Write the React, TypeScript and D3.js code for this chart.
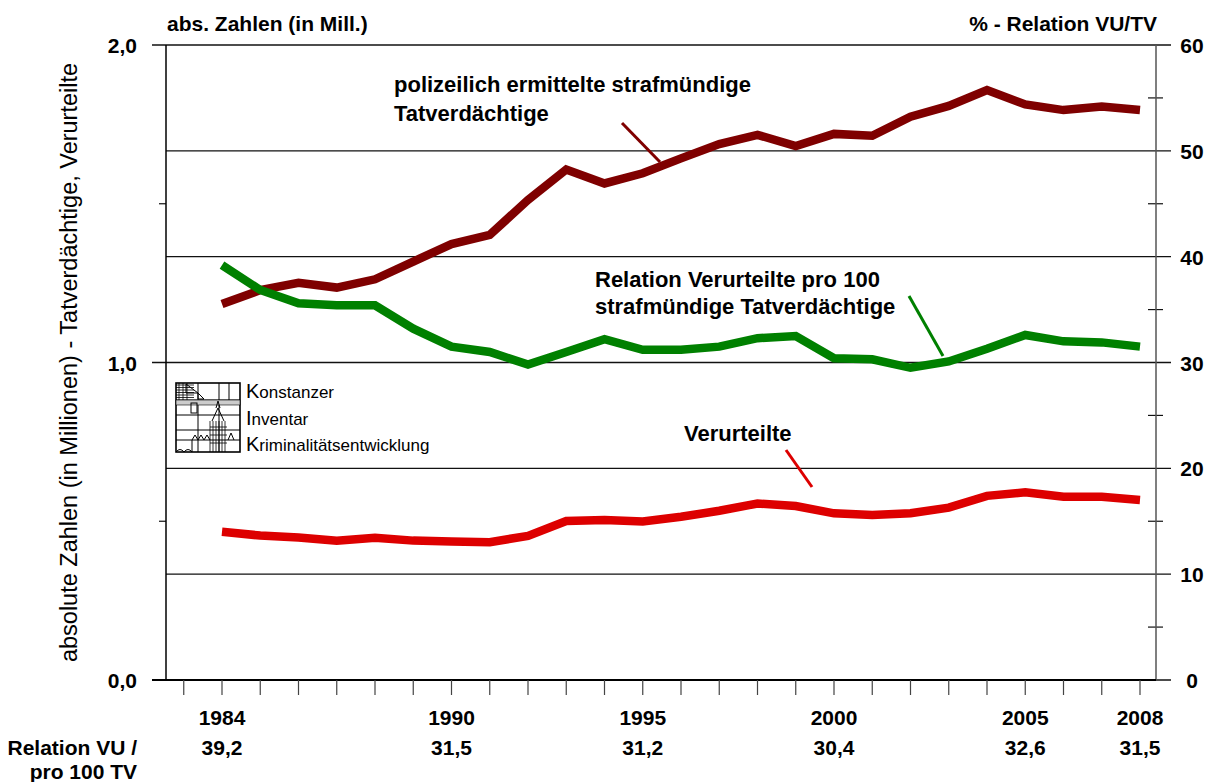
import * as d3 from "d3";

const years = [1984, 1985, 1986, 1987, 1988, 1989, 1990, 1991, 1992, 1993, 1994, 1995, 1996, 1997, 1998, 1999, 2000, 2001, 2002, 2003, 2004, 2005, 2006, 2007, 2008];
// Tatverdächtige (Mill.), left axis
const tatverdaechtige = [1.184, 1.228, 1.251, 1.236, 1.262, 1.318, 1.373, 1.402, 1.512, 1.608, 1.564, 1.596, 1.643, 1.688, 1.717, 1.682, 1.72, 1.714, 1.774, 1.808, 1.858, 1.813, 1.795, 1.806, 1.795];
// Verurteilte (Mill.), left axis
const verurteilte = [0.467, 0.455, 0.449, 0.439, 0.448, 0.439, 0.436, 0.434, 0.454, 0.501, 0.504, 0.499, 0.514, 0.533, 0.556, 0.548, 0.525, 0.52, 0.525, 0.543, 0.58, 0.591, 0.577, 0.577, 0.567];
// VU pro 100 TV (%), right axis
const relation = [39.2, 36.85, 35.6, 35.4, 35.4, 33.2, 31.5, 31.0, 29.8, 31.0, 32.2, 31.2, 31.2, 31.5, 32.3, 32.5, 30.4, 30.3, 29.5, 30.1, 31.3, 32.6, 32.0, 31.9, 31.5];

const labelYears = [1984, 1990, 1995, 2000, 2005, 2008];
const labelRelation = ["39,2", "31,5", "31,2", "30,4", "32,6", "31,5"];
const leftTicks = [0, 1, 2];
const leftMinor = [0.5, 1.5];
const rightTicks = [0, 10, 20, 30, 40, 50, 60];
const rightMinor = [5, 15, 25, 35, 45, 55];

const W = 1213;
const H = 782;
const FONT = "'Liberation Sans', Arial, sans-serif";

export default function App() {
  const x = d3.scaleLinear().domain([1984, 2008]).range([222, 1140]);
  const yL = d3.scaleLinear().domain([0, 2]).range([680, 45]);
  const yR = d3.scaleLinear().domain([0, 60]).range([680, 45]);
  const left = 166;
  const right = 1156;

  const lineL = d3
    .line<number>()
    .x((_, i) => x(years[i]))
    .y((d) => yL(d));
  const lineR = d3
    .line<number>()
    .x((_, i) => x(years[i]))
    .y((d) => yR(d));

  const xTicks = d3.range(1983, 2009);

  return (
    <div style={{ position: "absolute", left: 0, top: 0, width: W, height: H, background: "#fff" }}>
      <svg width={W} height={H} style={{ display: "block", fontFamily: FONT }}>
        {/* grid lines on the right scale */}
        {rightTicks.map((t) => (
          <line
            key={"g" + t}
            x1={t % 30 === 0 ? 152 : left}
            x2={1171}
            y1={yR(t)}
            y2={yR(t)}
            stroke="#111"
            strokeWidth={1.3}
          />
        ))}
        {rightMinor.map((t) => (
          <line key={"rm" + t} x1={1148} x2={1163} y1={yR(t)} y2={yR(t)} stroke="#111" strokeWidth={1.2} />
        ))}
        {leftMinor.map((t) => (
          <line key={"lm" + t} x1={159} x2={left} y1={yL(t)} y2={yL(t)} stroke="#111" strokeWidth={1.2} />
        ))}
        <line x1={left} x2={left} y1={45} y2={680} stroke="#000" strokeWidth={1.5} />
        <line x1={right} x2={right} y1={45} y2={680} stroke="#555" strokeWidth={1.5} />
        <line x1={152} x2={right} y1={680} y2={680} stroke="#000" strokeWidth={1.8} />
        {xTicks.map((t) => (
          <line key={"xt" + t} x1={x(t)} x2={x(t)} y1={680} y2={695} stroke="#444" strokeWidth={1.2} />
        ))}

        {/* axis labels */}
        {leftTicks.map((t) => (
          <text key={"ll" + t} x={137} y={yL(t) + 8} textAnchor="end" fontSize={21} fontWeight="bold">
            {t.toFixed(1).replace(".", ",")}
          </text>
        ))}
        {rightTicks.map((t) => (
          <text key={"rl" + t} x={1192} y={yR(t) + 8} textAnchor="middle" fontSize={21} fontWeight="bold">
            {t}
          </text>
        ))}
        <text x={167} y={31} fontSize={21} fontWeight="bold">
          abs. Zahlen (in Mill.)
        </text>
        <text x={1157} y={31} fontSize={21} fontWeight="bold" textAnchor="end">
          % - Relation VU/TV
        </text>
        <text
          transform={`translate(77,${(45 + 680) / 2}) rotate(-90)`}
          textAnchor="middle"
          fontSize={23.5}
        >
          absolute Zahlen (in Millionen) - Tatverdächtige, Verurteilte
        </text>

        {/* bottom labels */}
        {labelYears.map((yr, i) => (
          <g key={"by" + yr}>
            <text x={x(yr)} y={725} textAnchor="middle" fontSize={21} fontWeight="bold">
              {yr}
            </text>
            <text x={x(yr)} y={755} textAnchor="middle" fontSize={21} fontWeight="bold">
              {labelRelation[i]}
            </text>
          </g>
        ))}
        <text x={137} y={755} textAnchor="end" fontSize={21} fontWeight="bold">
          Relation VU /
        </text>
        <text x={137} y={779} textAnchor="end" fontSize={21} fontWeight="bold">
          pro 100 TV
        </text>

        {/* series */}
        <path d={lineL(tatverdaechtige) || ""} fill="none" stroke="#7f0000" strokeWidth={8.5} />
        <path d={lineR(relation) || ""} fill="none" stroke="#008000" strokeWidth={8.5} />
        <path d={lineL(verurteilte) || ""} fill="none" stroke="#dd0000" strokeWidth={8.5} />

        {/* annotations */}
        <text x={394} y={92} fontSize={22} fontWeight="bold">
          polizeilich ermittelte strafmündige
        </text>
        <text x={394} y={121} fontSize={22} fontWeight="bold">
          Tatverdächtige
        </text>
        <line x1={622} y1={123} x2={660} y2={162} stroke="#7f0000" strokeWidth={3} />

        <text x={595} y={287} fontSize={22} fontWeight="bold">
          Relation Verurteilte pro 100
        </text>
        <text x={595} y={314} fontSize={22} fontWeight="bold">
          strafmündige Tatverdächtige
        </text>
        <line x1={909} y1={296} x2={943} y2={356} stroke="#008000" strokeWidth={3} />

        <text x={684} y={441} fontSize={22} fontWeight="bold">
          Verurteilte
        </text>
        <line x1={786} y1={450} x2={812} y2={487} stroke="#dd0000" strokeWidth={3} />

        {/* KIK logo */}
        <Logo x0={176} y0={383} />
        <text x={246} y={398} fontSize={17}>
          <tspan fontSize={20}>K</tspan>onstanzer
        </text>
        <text x={246} y={425} fontSize={17}>
          <tspan fontSize={20}>I</tspan>nventar
        </text>
        <text x={246} y={451} fontSize={17}>
          <tspan fontSize={20}>K</tspan>riminalitätsentwicklung
        </text>
      </svg>
    </div>
  );
}

function Logo({ x0, y0 }: { x0: number; y0: number }) {
  const w = 64;
  const h = 69;
  const cols = [0, 22, 43, 64];
  const rows = [0, 17, 32, 47, 57, 69];
  const hatch = d3.range(2, 16, 2.5);
  return (
    <g transform={`translate(${x0},${y0})`} fill="none" stroke="#000" strokeWidth={1}>
      <rect x={0} y={0} width={w} height={h} strokeWidth={1.6} />
      {cols.slice(1, -1).map((c) => (
        <line key={"c" + c} x1={c} x2={c} y1={0} y2={h} />
      ))}
      {rows.slice(1, -1).map((r) => (
        <line key={"r" + r} x1={0} x2={w} y1={r} y2={r} />
      ))}
      <line x1={53} x2={53} y1={0} y2={17} />
      {hatch.map((v) => (
        <line key={"h" + v} x1={0} x2={18} y1={v} y2={v} strokeWidth={0.8} />
      ))}
      {[3, 7, 11].map((v) => (
        <line key={"v" + v} x1={v} x2={v} y1={0} y2={22} strokeWidth={0.8} />
      ))}
      <rect x={0} y={17} width={64} height={5} fill="#ccc" strokeWidth={0.6} />
      <path d="M10 1 L22 10 L10 10 Z" />
      <path d="M22 10 L28 16 L22 16 Z" />
      <rect x={15} y={20} width={6} height={10} />
      <path d="M40 25 L42 18 L44 25" />
      {d3.range(34, 52, 3).map((v) => (
        <line key={"s" + v} x1={v} x2={v} y1={38} y2={69} strokeWidth={0.8} />
      ))}
      {[44, 52, 60].map((v) => (
        <line key={"sh" + v} x1={34} x2={51} y1={v} y2={v} strokeWidth={0.8} />
      ))}
      <path d="M36 38 L42 25 L48 38" />
      <path d="M16 69 L16 57 L19 52 L22 57 L25 52 L28 57 L31 52 L34 57" />
      <path d="M0 69 Q4 64 8 69 Q12 64 16 69" />
      <path d="M52 57 L55 50 L58 57" />
    </g>
  );
}
